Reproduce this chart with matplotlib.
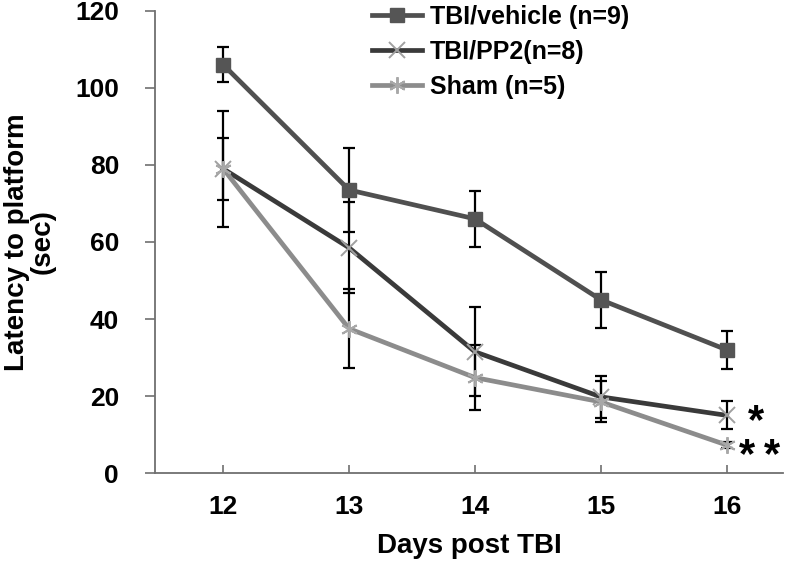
import numpy as np
import matplotlib
matplotlib.use("Agg")
import matplotlib.pyplot as plt

plt.rcParams["font.family"] = ["Liberation Sans", "DejaVu Sans"]
plt.rcParams["font.weight"] = "bold"

days = ["12", "13", "14", "15", "16"]

vehicle = [106, 73.5, 66, 45, 32]
vehicle_err = [4.5, 11, 7.2, 7.3, 5]

pp2 = [79, 58.5, 31.5, 19.8, 15]
pp2_err = [8, 11.8, 11.5, 5.5, 3.6]

sham = [79, 37.5, 24.8, 18.5, 7.3]
sham_err = [15, 10.2, 8.5, 5.3, 0.8]

x = np.arange(len(days))

fig = plt.figure(figsize=(7.92, 5.68), dpi=100)
ax = fig.add_axes([0.196, 0.167, 0.793, 0.814])

# error bars first so lines sit on top
for vals, err in [(vehicle, vehicle_err), (pp2, pp2_err), (sham, sham_err)]:
    ax.errorbar(x, vals, yerr=err, fmt="none", ecolor="black",
                elinewidth=1.6, capsize=4.5, capthick=1.6, zorder=2)

ax.plot(x, vehicle, color="#505050", lw=3.4, marker="s", ms=10,
        mfc="#555555", mec="#555555", label="TBI/vehicle (n=9)", zorder=3)
ax.plot(x, pp2, color="#3a3a3a", lw=3.4, marker="x", ms=12, mew=1.4,
        mec="#a0a0a0", label="TBI/PP2(n=8)", zorder=4)
ax.plot(x, sham, color="#8c8c8c", lw=3.4, marker=(6, 2, 0), ms=12, mew=1.4,
        mec="#a8a8a8", label="Sham (n=5)", zorder=5)

# significance marks next to day 16
ax.text(4.23, 10.5, "*", fontsize=30, fontweight="bold", va="baseline", ha="center")
for xs in (4.16, 4.36):
    ax.text(xs, 1.7, "*", fontsize=30, fontweight="bold", va="baseline", ha="center")

ax.set_xlim(-0.54, 4.45)
ax.set_ylim(0, 120)
ax.set_yticks(np.arange(0, 121, 20))
ax.set_xticks(x)
ax.set_xticklabels(days)

for s in ["top", "right"]:
    ax.spines[s].set_visible(False)
for s in ["left", "bottom"]:
    ax.spines[s].set_color("#707070")
    ax.spines[s].set_linewidth(1.3)

ax.tick_params(axis="y", direction="out", length=7, width=1.2, color="#707070",
               labelsize=19, pad=19)
ax.tick_params(axis="x", direction="in", length=6, width=1.2, color="#707070",
               labelsize=19, pad=16)
for lab in ax.get_xticklabels() + ax.get_yticklabels():
    lab.set_fontweight("bold")

ax.set_xlabel("Days post TBI", fontsize=20, fontweight="bold", labelpad=10)
ax.set_ylabel("Latency to platform\n(sec)", fontsize=20, fontweight="bold",
              labelpad=14, linespacing=1.0)

leg = ax.legend(loc="upper left", bbox_to_anchor=(0.33, 1.035), frameon=False,
                fontsize=18, handlelength=2.0, handletextpad=0.3,
                labelspacing=0.45, borderaxespad=0)
for t in leg.get_texts():
    t.set_fontweight("bold")

fig.savefig("out.png", dpi=100)
